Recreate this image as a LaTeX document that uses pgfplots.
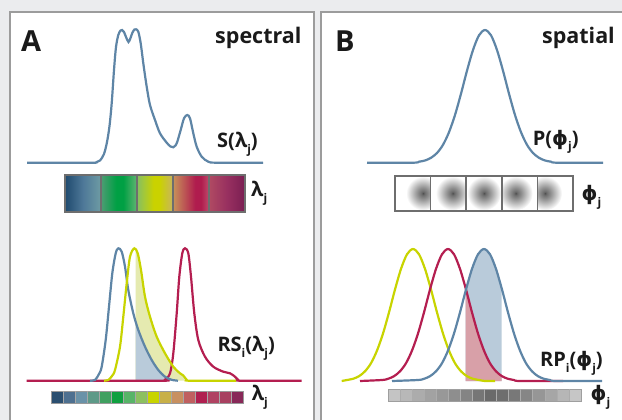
\documentclass[border=0pt]{standalone}
\usepackage{pgfplots}
\pgfplotsset{compat=1.18}
\usepackage{pgfplotstable}
\usepackage{fontspec}
\setmainfont{Open Sans}
\newfontfamily\dejavu{DejaVu Sans}

\definecolor{bg}{HTML}{EBECEE}
\definecolor{panelborder}{HTML}{9C9C9C}
\definecolor{cblue}{HTML}{5E85A6}
\definecolor{cyel}{HTML}{C8D400}
\definecolor{ccrim}{HTML}{B41E50}
\definecolor{fblue}{HTML}{B9CBDA}
\definecolor{fyel}{HTML}{E5EAB0}
\definecolor{fpink}{HTML}{D8A0A8}
\definecolor{txt}{HTML}{1A1A1A}
\definecolor{barborder}{HTML}{6E6E6E}
\definecolor{bl0}{HTML}{4A4A4A}
\definecolor{bl1}{HTML}{6A6A6A}
\definecolor{bl2}{HTML}{8E8E8E}
\definecolor{bl3}{HTML}{CACACA}
\definecolor{sAl}{HTML}{1F4A6E}\definecolor{sAm}{HTML}{4E7898}\definecolor{sAr}{HTML}{6E9CA4}
\definecolor{sBl}{HTML}{4E9C74}\definecolor{sBm}{HTML}{00A044}\definecolor{sBr}{HTML}{62B472}
\definecolor{sCl}{HTML}{86C062}\definecolor{sCm}{HTML}{CAD200}\definecolor{sCr}{HTML}{C8B460}
\definecolor{sDl}{HTML}{C8925A}\definecolor{sDm}{HTML}{B01C4E}\definecolor{sDr}{HTML}{C04C6C}
\definecolor{sEl}{HTML}{B04A62}\definecolor{sEm}{HTML}{983060}\definecolor{sEr}{HTML}{7A1E52}

\pgfdeclarehorizontalshading{cellA}{100bp}{color(0bp)=(sAl); color(25bp)=(sAl); color(50bp)=(sAm); color(75bp)=(sAr); color(100bp)=(sAr)}
\pgfdeclarehorizontalshading{cellB}{100bp}{color(0bp)=(sBl); color(25bp)=(sBl); color(46bp)=(sBm); color(56bp)=(sBm); color(75bp)=(sBr); color(100bp)=(sBr)}
\pgfdeclarehorizontalshading{cellC}{100bp}{color(0bp)=(sCl); color(25bp)=(sCl); color(48bp)=(sCm); color(56bp)=(sCm); color(75bp)=(sCr); color(100bp)=(sCr)}
\pgfdeclarehorizontalshading{cellD}{100bp}{color(0bp)=(sDl); color(25bp)=(sDl); color(56bp)=(sDm); color(64bp)=(sDm); color(75bp)=(sDr); color(100bp)=(sDr)}
\pgfdeclarehorizontalshading{cellE}{100bp}{color(0bp)=(sEl); color(25bp)=(sEl); color(50bp)=(sEm); color(75bp)=(sEr); color(100bp)=(sEr)}

\newcommand{\lbl}{\fontsize{20}{20}\selectfont\bfseries}
\newcommand{\sub}[1]{\raisebox{-0.5ex}{\fontsize{12}{12}\selectfont\bfseries #1}}
\newcommand{\ph}{{\dejavu\bfseries ϕ}}

\pgfdeclareradialshading{blob}{\pgfpoint{0bp}{0bp}}{color(0bp)=(bl0); color(2bp)=(bl1); color(8bp)=(bl2); color(17bp)=(bl3); color(25bp)=(white); color(50bp)=(white)}

% ---- data (pixel coordinates, y downward) ----
\pgfplotstableread{
x y
27 162.7
90 162.7
96 162.4
100 160.5
104 154
107 142
109.5 126
111.7 103.3
114 70
116 47
118.3 35
120.5 30.5
122 30
124 32
126 37
128.5 42
130.5 38
132.5 32.5
134.5 29.5
136 29.3
138.3 31.7
140.7 43.3
143.3 63.3
146.7 86.7
150 105
155 120
160 133.3
166.7 142.7
170.5 146.5
173.3 147.3
175.5 145.5
177.3 141.7
180.7 130
184 118.3
187.3 115
190 118.3
193.3 133.3
196.7 146.7
201.7 156.7
208.3 161.7
216.7 162.7
263 162.7
}\tabS

\pgfplotstableread{
x y
90 380.7
95 380
99 374
101.7 366.7
105.7 340
109 306.7
112.3 273.3
115.7 253.3
118.3 248.3
121.7 251.7
125 266.7
128.3 290
133.3 313.3
138.3 330
145 346.7
151.7 360
158.3 370
165 376.7
171.7 379.8
178 380.7
}\tabRSblue

\pgfplotstableread{
x y
104 380.7
108.3 380
112 376
115 370
120 346.7
123.3 316.7
126.7 283.3
130 256.7
134.3 248.3
137.7 253.3
141 270
145 296.7
150 316.7
156.7 336.7
165 353.3
173.3 366.7
180 373.3
183.3 375.5
186.7 379.8
190 380.7
236 380.7
}\tabRSyel

\pgfplotstableread{
x y
26.7 380.7
160 380.7
165 379.7
170 373.3
173.3 353.3
176.7 313.3
179.3 276.7
182.3 253.3
185 248.3
188.3 253.3
191 276.7
194.3 313.3
198.3 340
205 356.7
213.3 366.7
223.3 371.7
230 373.3
235 376.7
238.3 380
242 380.7
301.7 380.7
}\tabRScrim

\pgfplotstableread{
x y
367 162.7
413 162.7
419 161.7
425 160.5
431 157.8
437 153.0
443 144.8
449 132.2
455 115.0
461 93.7
467 70.7
473 50.0
479 35.3
485 30
491 35.3
497 50
503 70.7
509 93.7
515 115
521 132.2
527 144.8
533 153
539 157.8
545 160.5
551 161.7
557 162.7
603 162.7
}\tabP

\pgfplotstableread{
x y
341.7 381
347 380
353 378.8
359 376.2
365 371.3
371 363.2
377 350.6
383 333.5
389 312.4
395 289.5
401 268.9
407 254.3
413 249
419 254.3
425 268.9
431 289.5
437 312.4
443 333.5
449 350.6
455 363.2
461 371.3
467 376.2
473 378.8
479 380
485 381
495 381
}\tabRPyel

\pgfplotstableread{
x y
360 381
382 380
388 378.8
394 376.2
400 371.3
406 363.2
412 350.6
418 333.5
424 312.4
430 289.5
436 268.9
442 254.3
448 249
454 254.3
460 268.9
466 289.5
472 312.4
478 333.5
484 350.6
490 363.2
496 371.3
502 376.2
508 378.8
514 380
520 381
563 381
}\tabRPcrim

\pgfplotstableread{
x y
392 381
418 380
424 378.8
430 376.2
436 371.3
442 363.2
448 350.6
454 333.5
460 312.4
466 289.5
472 268.9
478 254.3
484 249
490 254.3
496 268.9
502 289.5
508 312.4
514 333.5
520 350.6
526 363.2
532 371.3
538 376.2
544 378.8
550 380
556 381
602 381
}\tabRPblue

\begin{document}
\begin{tikzpicture}
% ---------- background and panels ----------
\begin{scope}[shift={(0,420pt)}, x=1pt, y=-1pt]
\fill[bg] (0,0) rectangle (622,420);
\fill[white] (10,12) rectangle (314,420);
\fill[white] (321,12) rectangle (622,420);
\draw[panelborder, line width=1.6pt] (10,420) -- (10,12) -- (314,12) -- (314,420);
\draw[panelborder, line width=1.6pt] (321,420) -- (321,12) -- (622,12);

% top spectral bar
\shade[shading=cellA] (65,175) rectangle (101,212);
\shade[shading=cellB] (101,175) rectangle (137,212);
\shade[shading=cellC] (137,175) rectangle (173,212);
\shade[shading=cellD] (173,175) rectangle (209,212);
\shade[shading=cellE] (209,175) rectangle (245,212);
\draw[barborder, line width=2pt] (65,175) rectangle (245,212);
\foreach \xx in {101,137,173,209} \draw[barborder, line width=1.5pt] (\xx,175) -- (\xx,212);

% bottom spectral bar (16 cells)
\foreach \c [count=\i from 0] in {2B4F70,4E7090,6A92A8,5E9A88,40A060,10A040,58B468,8CC060,C8D400,C8B048,C89060,C06060,B02050,B04262,A84060,882858}{
  \definecolor{tmpc}{HTML}{\c}
  \fill[tmpc] ({51+12*\i},391) rectangle ({63+12*\i},403);
}
\draw[gray!80, line width=0.8pt] (51,391) rectangle (243,403);
\foreach \i in {1,...,15} \draw[gray!70, line width=0.6pt] ({51+12*\i},391) -- ({51+12*\i},403);

% top spatial bar with blobs
\foreach \cx/\l/\r in {423/395/430.6, 452.7/430.6/466.2, 484/466.2/501.8, 515.7/501.8/537.4, 545/537.4/573}{
  \begin{scope}
  \clip (\l,175.7) rectangle (\r,211);
  \shade[shading=blob] (\cx,193.3) circle (17);
  \end{scope}
}
\draw[barborder, line width=2pt] (395,175.7) rectangle (573,211);
\foreach \xx in {430.6,466.2,501.8,537.4} \draw[barborder, line width=1.5pt] (\xx,175.7) -- (\xx,211);

% bottom gray bar (16 cells)
\foreach \c [count=\i from 0] in {C4C4C4,B8B8B8,ACACAC,A2A2A2,989898,8E8E8E,848484,767676,6A6A6A,6E6E6E,787878,868686,969696,A6A6A6,B6B6B6,C6C6C6}{
  \definecolor{tmpc}{HTML}{\c}
  \fill[tmpc] ({388.3+12.04*\i},389) rectangle ({400.34+12.04*\i},401.3);
}
\draw[gray!75, line width=0.8pt] (388.3,389) rectangle (581,401.3);
\foreach \i in {1,...,15} \draw[gray!65, line width=0.6pt] ({388.3+12.04*\i},389) -- ({388.3+12.04*\i},401.3);

% ---------- text ----------
\node[txt, anchor=base west, inner sep=0] at (21,51.7) {\fontsize{29}{29}\selectfont\bfseries A};
\node[txt, anchor=base east, inner sep=0] at (301.7,43.3) {\fontsize{21.5}{21.5}\selectfont\bfseries spectral};
\node[txt, anchor=base west, inner sep=0] at (335,51.7) {\fontsize{29}{29}\selectfont\bfseries B};
\node[txt, anchor=base east, inner sep=0] at (615,43.3) {\fontsize{21.5}{21.5}\selectfont\bfseries spatial};
\node[txt, anchor=base west, inner sep=0] at (217,148) {\lbl S(λ\sub{j})};
\node[txt, anchor=base west, inner sep=0] at (532.7,145.5) {\lbl P(\ph\sub{j})};
\node[txt, anchor=base west, inner sep=0] at (251,197) {\lbl λ\sub{j}};
\node[txt, anchor=base west, inner sep=0] at (581.5,201) {\lbl \ph\sub{j}};
\node[txt, anchor=base west, inner sep=0] at (217.3,351.7) {\lbl RS\sub{i}(λ\sub{j})};
\node[txt, anchor=base west, inner sep=0] at (540,366.7) {\lbl RP\sub{i}(\ph\sub{j})};
\node[txt, anchor=base west, inner sep=0] at (251.7,401) {\lbl λ\sub{j}};
\node[txt, anchor=base west, inner sep=0] at (590.5,401) {\lbl \ph\sub{j}};
\end{scope}

% ---------- curves ----------
\begin{axis}[at={(0,0)}, anchor=south west, scale only axis,
  width=622pt, height=420pt, xmin=0, xmax=622, ymin=0, ymax=420,
  y dir=reverse, hide axis, clip=false]
% fills (areas under curves, right of the cut)
\addplot[fill=fyel, draw=none, smooth] coordinates {(135.7,249.8) (137.7,253.3) (141,270) (145,296.7) (150,316.7) (156.7,336.7) (165,353.3) (173.3,366.7) (180,373.3) (183.3,375.5) (186.7,379.8) (190,380.7)} -- (axis cs:135.7,380.7) -- cycle;
\addplot[fill=fblue, draw=none, smooth] coordinates {(135.7,321) (138.3,330) (145,346.7) (151.7,360) (158.3,370) (165,376.7) (171.7,379.8) (178,380.7)} -- (axis cs:135.7,380.7) -- cycle;
\addplot[fill=fblue, draw=none, smooth] coordinates {(465.7,290.5) (472,268.9) (478,254.3) (484,249) (490,254.3) (496,268.9) (501.7,288.5)} -- (axis cs:501.7,381) -- (axis cs:465.7,381) -- cycle;
\addplot[fill=fpink, draw=none, smooth] coordinates {(465.7,288.5) (472,312.4) (478,333.5) (484,350.6) (490,363.2) (496,371.3) (501.7,376)} -- (axis cs:501.7,381) -- (axis cs:465.7,381) -- cycle;
% lines
\addplot[cblue, line width=2.2pt, smooth] table {\tabS};
\addplot[cblue, line width=2.2pt, smooth] table {\tabP};
\addplot[ccrim, line width=2.2pt, smooth] table {\tabRScrim};
\addplot[cblue, line width=2.2pt, smooth] table {\tabRSblue};
\addplot[cyel, line width=2.2pt, smooth] table {\tabRSyel};
\addplot[cyel, line width=2.2pt, smooth] table {\tabRPyel};
\addplot[ccrim, line width=2.2pt, smooth] table {\tabRPcrim};
\addplot[cblue, line width=2.2pt, smooth] table {\tabRPblue};
\end{axis}
\pgfresetboundingbox
\path (0,0) rectangle (622pt,420pt);
\end{tikzpicture}
\end{document}
